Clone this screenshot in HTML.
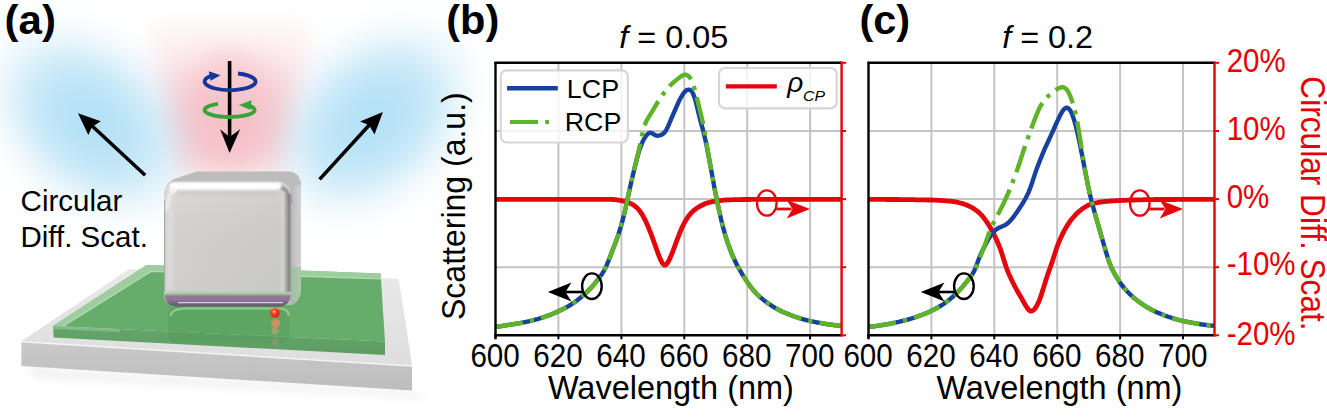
<!DOCTYPE html>
<html><head><meta charset="utf-8"><style>
html,body{margin:0;padding:0;background:#fff;width:1327px;height:417px;overflow:hidden}
svg{display:block;font-family:"Liberation Sans", sans-serif}
</style></head><body>
<svg width="1327" height="417" viewBox="0 0 1327 417">
<rect width="1327" height="417" fill="#fff"/>
<defs>
<filter id="bPink" x="-60%" y="-60%" width="220%" height="220%"><feGaussianBlur stdDeviation="12"/></filter>
<filter id="bBlue" x="-60%" y="-60%" width="220%" height="220%"><feGaussianBlur stdDeviation="14"/></filter>
<filter id="blur4" x="-50%" y="-50%" width="200%" height="200%"><feGaussianBlur stdDeviation="4"/></filter>
<filter id="blur2" filterUnits="userSpaceOnUse" x="0" y="0" width="1327" height="417"><feGaussianBlur stdDeviation="1.6"/></filter>
<filter id="blur1" filterUnits="userSpaceOnUse" x="0" y="0" width="1327" height="417"><feGaussianBlur stdDeviation="0.8"/></filter>
<linearGradient id="cubeFront" x1="0" y1="0" x2="1" y2="1">
<stop offset="0" stop-color="#d6d5d2"/><stop offset="0.5" stop-color="#cecdca"/><stop offset="1" stop-color="#c5c5c2"/></linearGradient>
<linearGradient id="cubeFrontD" x1="0" y1="0" x2="0" y2="1">
<stop offset="0" stop-color="#fff" stop-opacity="0.1"/><stop offset="0.4" stop-color="#fff" stop-opacity="0"/><stop offset="1" stop-color="#fff" stop-opacity="0.03"/></linearGradient>
<linearGradient id="cubeRE" x1="0" y1="0" x2="1" y2="0">
<stop offset="0" stop-color="#c8c8c6" stop-opacity="0"/><stop offset="0.3" stop-color="#dadad8" stop-opacity="0.8"/><stop offset="0.8" stop-color="#858585" stop-opacity="0.95"/><stop offset="1" stop-color="#9c9c9c"/></linearGradient>
<linearGradient id="cubeFrontV" x1="0" y1="0" x2="0" y2="1">
<stop offset="0" stop-color="#ffffff" stop-opacity="0.25"/><stop offset="0.5" stop-color="#ffffff" stop-opacity="0"/><stop offset="1" stop-color="#000" stop-opacity="0.03"/></linearGradient>
<linearGradient id="cubeSide" x1="0" y1="0" x2="1" y2="0">
<stop offset="0" stop-color="#b8b8b8"/><stop offset="0.5" stop-color="#c6c6c6"/><stop offset="1" stop-color="#d2d2d2"/></linearGradient>
<linearGradient id="cubeBot" x1="0" y1="0" x2="0" y2="1">
<stop offset="0" stop-color="#aab8aa"/><stop offset="0.25" stop-color="#8a7a8e"/><stop offset="0.5" stop-color="#9a6e9e"/><stop offset="0.75" stop-color="#6e6878"/><stop offset="1" stop-color="#5e5c66"/></linearGradient>
<linearGradient id="baseFront" x1="0" y1="0" x2="0" y2="1">
<stop offset="0" stop-color="#c9c9c9"/><stop offset="1" stop-color="#bdbdbd"/></linearGradient>
<linearGradient id="baseTop" x1="0" y1="0" x2="0" y2="1">
<stop offset="0" stop-color="#e9e9e9"/><stop offset="1" stop-color="#dedede"/></linearGradient>
<linearGradient id="pinkG" x1="0" y1="0" x2="0" y2="1">
<stop offset="0" stop-color="#f7c6cc" stop-opacity="0.0"/><stop offset="0.2" stop-color="#f7c6cc" stop-opacity="0.35"/><stop offset="0.5" stop-color="#f6c2c8" stop-opacity="0.9"/><stop offset="0.75" stop-color="#f5bdc4"/><stop offset="1" stop-color="#f6c8cd" stop-opacity="0.6"/></linearGradient>
<linearGradient id="slabFront" x1="0" y1="0" x2="0" y2="1">
<stop offset="0" stop-color="#64a56a"/><stop offset="1" stop-color="#5d9d63"/></linearGradient>
<radialGradient id="blueR" cx="0.5" cy="0.5" r="0.5"><stop offset="0" stop-color="#ade0f6"/><stop offset="0.5" stop-color="#b8e2f6" stop-opacity="0.85"/><stop offset="1" stop-color="#cce9f7" stop-opacity="0"/></radialGradient>
<radialGradient id="dotG" cx="0.4" cy="0.35" r="0.7"><stop offset="0" stop-color="#ffb08a"/><stop offset="0.4" stop-color="#ff3a1a"/><stop offset="1" stop-color="#d81a10"/></radialGradient>
</defs>
<polygon points="146,12 314,12 284,180 176,180" fill="url(#pinkG)" filter="url(#bPink)" opacity="0.8"/>
<ellipse cx="229" cy="112" rx="48" ry="62" fill="#f4b4bc" opacity="0.45" filter="url(#bPink)"/>
<ellipse cx="92" cy="122" rx="125" ry="88" fill="url(#blueR)" transform="rotate(40 92 122)" filter="url(#bBlue)"/>
<ellipse cx="372" cy="120" rx="125" ry="88" fill="url(#blueR)" transform="rotate(-40 372 120)" filter="url(#bBlue)"/>
<polygon points="24,366 412,390 428,398 34,378" fill="#aaa" opacity="0.15" filter="url(#blur4)"/>
<polygon points="21.4,341.3 129,269 398.6,278.8 412,365.5" fill="url(#baseTop)"/>
<polygon points="21.4,341.3 412,365.5 412,390.5 21.4,366" fill="url(#baseFront)"/>
<line x1="21.4" y1="341.8" x2="412" y2="366" stroke="#f4f4f4" stroke-width="1.5"/>
<polygon points="398.6,278.8 406,330 412,365.5" fill="#d4d4d4" opacity="0.6"/>
<polygon points="53,325.9 146.6,265 380.6,273.4 385,341.5" fill="#66ad6b"/>
<polygon points="53,325.9 146.6,265 380.6,273.4 381,279 151,271.5 62,327" fill="#acd5ac" opacity="0.8"/>
<polyline points="62,327 151,271.5 381,279" fill="none" stroke="#c4e4c2" stroke-width="1.2" opacity="0.8"/>
<polygon points="53,325.9 385,341.5 385,355 53.7,337.4" fill="url(#slabFront)"/>
<polygon points="53,325.9 120,329 120,332 53,329" fill="#a3d1a3" opacity="0.5"/>
<rect x="168" y="306" width="121.5" height="37" rx="9" fill="#4a9450" opacity="0.32"/>
<path d="M170,316 Q172,308.5 185,308.5 L280,308.5 Q288,308.5 289,316" fill="none" stroke="#9fd69f" stroke-width="2" opacity="0.8"/>
<path d="M164,296 L164,195 Q164.5,184 174,179 L196.7,171.6 L289.2,171.6 Q300.5,173 301,185 L301,290 Q300,302 291,305 L175,305 Q164,304 164,296 Z" fill="#bcbcbc"/>
<path d="M290.9,188 L301,185 L301,290 Q300,302 291,305 Z" fill="url(#cubeSide)"/>
<path d="M290.9,267 L301,267 L301,290 Q300,302 291,305 Z" fill="#86c487" opacity="0.5"/>
<rect x="164" y="181.7" width="126.9" height="122.5" rx="12" fill="url(#cubeFront)"/>
<rect x="164" y="181.7" width="126.9" height="122.5" rx="12" fill="url(#cubeFrontD)"/>
<path d="M164.6,200 L164.6,292" stroke="#a9a9a7" stroke-width="1.2" fill="none"/>
<rect x="166.5" y="196" width="7" height="94" fill="#e2e1df" opacity="0.55" filter="url(#blur1)"/>
<rect x="279" y="194" width="12" height="98" fill="url(#cubeRE)"/>
<path d="M278,187 Q289.5,188 290.2,203" fill="none" stroke="#8a8a8a" stroke-width="3" filter="url(#blur1)"/>
<path d="M176,193.5 L276,193.5" fill="none" stroke="#b9b9b7" stroke-width="2" opacity="0.45" filter="url(#blur1)"/>
<path d="M173,186 L278,186" fill="none" stroke="#ffffff" stroke-width="7" stroke-linecap="round" filter="url(#blur1)"/>
<circle cx="173" cy="190" r="3.2" fill="#fff" filter="url(#blur1)"/>
<path d="M167,210 Q167.5,194 175,188" fill="none" stroke="#f0f0f0" stroke-width="3" filter="url(#blur1)"/>
<path d="M166,292.5 L289.5,292.5" stroke="#a4d6a2" stroke-width="2.2" opacity="0.85"/>
<path d="M164.5,293.5 Q165,306.5 178,306.5 L279,306.5 Q290.5,306 290.8,293.5 Z" fill="url(#cubeBot)"/>
<path d="M178,302.6 L283,302.6" fill="none" stroke="#cfe3ec" stroke-width="1.4" opacity="0.9"/>
<circle cx="275" cy="313" r="5.8" fill="#ff5030" opacity="0.35" filter="url(#blur1)"/>
<circle cx="275" cy="313" r="4.6" fill="url(#dotG)"/>
<circle cx="275.5" cy="323.3" r="4.6" fill="#f08a60" opacity="0.75"/>
<circle cx="275" cy="331" r="3.5" fill="#eaa080" opacity="0.45"/>
<circle cx="275" cy="342" r="3.5" fill="#c89080" opacity="0.35"/>
<line x1="145.2" y1="175.2" x2="90" y2="124" stroke="#000" stroke-width="3.6"/>
<path d="M78,113.3 L100.8,121.2 L92,127 L88.3,135.1 Z" fill="#000"/>
<line x1="319.6" y1="179.4" x2="372" y2="122" stroke="#000" stroke-width="3.6"/>
<path d="M382.9,111.9 L374.5,134.5 L369,125 L360,121.5 Z" fill="#000"/>
<line x1="229.6" y1="61" x2="229.6" y2="138" stroke="#000" stroke-width="3.6"/>
<path d="M212,75.6 A25.5 8.5 0 1 0 238,73.5" fill="none" stroke="#14369a" stroke-width="3.8"/>
<path d="M220.5,75.3 L208.8,71.2 L210.6,80.8 Z" fill="#14369a"/>
<path d="M248.5,105.4 A25 7 0 1 1 218,103.8" fill="none" stroke="#37a33b" stroke-width="3.8"/>
<path d="M238.8,104.9 L251.5,100.3 L250.5,110 Z" fill="#37a33b"/>
<path d="M229.6,152.9 L220.1,129.2 L229.6,137 L240.2,129.2 Z" fill="#000"/>
<text x="20.6" y="211" font-size="29.5" fill="#000">Circular</text>
<text x="20.5" y="247.3" font-size="29.5" fill="#000">Diff. Scat.</text>
<text transform="translate(4.59,33.78) scale(1.0,0.98)" font-size="42" text-anchor="start" fill="#000" font-weight="bold">(a)</text>
<line x1="558.4" y1="62.8" x2="558.4" y2="335.3" stroke="#c4c4c4" stroke-width="2"/>
<line x1="621.4" y1="62.8" x2="621.4" y2="335.3" stroke="#c4c4c4" stroke-width="2"/>
<line x1="684.3" y1="62.8" x2="684.3" y2="335.3" stroke="#c4c4c4" stroke-width="2"/>
<line x1="747.2" y1="62.8" x2="747.2" y2="335.3" stroke="#c4c4c4" stroke-width="2"/>
<line x1="810.1" y1="62.8" x2="810.1" y2="335.3" stroke="#c4c4c4" stroke-width="2"/>
<line x1="495.5" y1="131.0" x2="841.6" y2="131.0" stroke="#c4c4c4" stroke-width="2"/>
<line x1="495.5" y1="199.1" x2="841.6" y2="199.1" stroke="#c4c4c4" stroke-width="2"/>
<line x1="495.5" y1="267.2" x2="841.6" y2="267.2" stroke="#c4c4c4" stroke-width="2"/>
<path d="M495.5,199.4 L496.5,199.4 L497.5,199.4 L498.5,199.4 L499.5,199.4 L500.5,199.4 L501.5,199.4 L502.5,199.4 L503.5,199.4 L504.5,199.4 L505.5,199.4 L506.5,199.4 L507.5,199.4 L508.5,199.4 L509.5,199.4 L510.5,199.4 L511.5,199.4 L512.5,199.4 L513.5,199.4 L514.5,199.4 L515.5,199.4 L516.5,199.4 L517.5,199.4 L518.5,199.4 L519.5,199.4 L520.5,199.4 L521.5,199.4 L522.5,199.4 L523.5,199.4 L524.5,199.4 L525.5,199.4 L526.5,199.4 L527.5,199.4 L528.5,199.4 L529.5,199.4 L530.5,199.4 L531.5,199.4 L532.5,199.4 L533.5,199.4 L534.5,199.4 L535.5,199.4 L536.5,199.4 L537.5,199.4 L538.5,199.4 L539.5,199.4 L540.5,199.4 L541.5,199.4 L542.5,199.4 L543.5,199.4 L544.5,199.4 L545.5,199.4 L546.5,199.4 L547.5,199.4 L548.5,199.4 L549.5,199.4 L550.5,199.4 L551.5,199.4 L552.5,199.4 L553.5,199.4 L554.5,199.4 L555.5,199.4 L556.5,199.4 L557.5,199.4 L558.5,199.4 L559.5,199.4 L560.5,199.4 L561.5,199.4 L562.5,199.4 L563.5,199.4 L564.5,199.4 L565.5,199.4 L566.5,199.4 L567.5,199.4 L568.5,199.4 L569.5,199.4 L570.5,199.4 L571.5,199.4 L572.5,199.4 L573.5,199.4 L574.5,199.4 L575.5,199.4 L576.5,199.4 L577.5,199.4 L578.5,199.4 L579.5,199.4 L580.5,199.4 L581.5,199.4 L582.5,199.4 L583.5,199.4 L584.5,199.4 L585.5,199.4 L586.5,199.4 L587.5,199.4 L588.5,199.4 L589.5,199.4 L590.5,199.4 L591.5,199.4 L592.5,199.4 L593.5,199.4 L594.5,199.4 L595.5,199.4 L596.5,199.4 L597.5,199.4 L598.5,199.4 L599.5,199.4 L600.5,199.4 L601.5,199.4 L602.5,199.4 L603.5,199.4 L604.5,199.4 L605.5,199.4 L606.5,199.4 L607.5,199.4 L608.5,199.4 L609.5,199.4 L610.5,199.4 L611.5,199.4 L612.5,199.5 L613.5,199.5 L614.5,199.6 L615.5,199.7 L616.5,199.8 L617.5,199.9 L618.5,200.1 L619.5,200.3 L620.5,200.4 L621.5,200.7 L622.5,200.9 L623.5,201.1 L624.5,201.4 L625.5,201.6 L626.5,201.9 L627.5,202.2 L628.5,202.6 L629.5,203.0 L630.5,203.4 L631.5,203.9 L632.5,204.5 L633.5,205.1 L634.5,205.8 L635.5,206.6 L636.5,207.4 L637.5,208.4 L638.5,209.5 L639.5,210.7 L640.5,212.1 L641.5,213.5 L642.5,215.1 L643.5,216.9 L644.5,218.8 L645.5,220.8 L646.5,223.0 L647.5,225.2 L648.5,227.6 L649.5,230.1 L650.5,232.6 L651.5,235.2 L652.5,237.9 L653.5,240.7 L654.5,243.5 L655.5,246.3 L656.5,249.1 L657.5,251.9 L658.5,254.6 L659.5,257.2 L660.5,259.5 L661.5,261.6 L662.5,263.3 L663.5,264.5 L664.5,265.1 L665.5,265.0 L666.5,264.3 L667.5,263.0 L668.5,261.3 L669.5,259.3 L670.5,257.1 L671.5,254.7 L672.5,252.2 L673.5,249.5 L674.5,246.8 L675.5,244.1 L676.5,241.4 L677.5,238.7 L678.5,236.1 L679.5,233.5 L680.5,231.1 L681.5,228.7 L682.5,226.5 L683.5,224.5 L684.5,222.6 L685.5,220.8 L686.5,219.1 L687.5,217.6 L688.5,216.2 L689.5,214.9 L690.5,213.7 L691.5,212.6 L692.5,211.7 L693.5,210.8 L694.5,209.9 L695.5,209.2 L696.5,208.4 L697.5,207.8 L698.5,207.1 L699.5,206.5 L700.5,206.0 L701.5,205.5 L702.5,205.0 L703.5,204.5 L704.5,204.0 L705.5,203.6 L706.5,203.2 L707.5,202.9 L708.5,202.5 L709.5,202.3 L710.5,202.0 L711.5,201.8 L712.5,201.6 L713.5,201.5 L714.5,201.3 L715.5,201.1 L716.5,201.0 L717.5,200.9 L718.5,200.7 L719.5,200.6 L720.5,200.5 L721.5,200.4 L722.5,200.3 L723.5,200.2 L724.5,200.1 L725.5,200.0 L726.5,200.0 L727.5,199.9 L728.5,199.9 L729.5,199.8 L730.5,199.8 L731.5,199.8 L732.5,199.7 L733.5,199.7 L734.5,199.7 L735.5,199.7 L736.5,199.7 L737.5,199.6 L738.5,199.6 L739.5,199.6 L740.5,199.6 L741.5,199.6 L742.5,199.5 L743.5,199.5 L744.5,199.5 L745.5,199.5 L746.5,199.5 L747.5,199.5 L748.5,199.5 L749.5,199.5 L750.5,199.4 L751.5,199.4 L752.5,199.4 L753.5,199.4 L754.5,199.4 L755.5,199.4 L756.5,199.4 L757.5,199.4 L758.5,199.4 L759.5,199.4 L760.5,199.4 L761.5,199.4 L762.5,199.4 L763.5,199.4 L764.5,199.4 L765.5,199.4 L766.5,199.4 L767.5,199.4 L768.5,199.4 L769.5,199.4 L770.5,199.4 L771.5,199.4 L772.5,199.4 L773.5,199.4 L774.5,199.4 L775.5,199.4 L776.5,199.4 L777.5,199.4 L778.5,199.4 L779.5,199.4 L780.5,199.4 L781.5,199.4 L782.5,199.4 L783.5,199.4 L784.5,199.4 L785.5,199.4 L786.5,199.4 L787.5,199.4 L788.5,199.4 L789.5,199.4 L790.5,199.4 L791.5,199.4 L792.5,199.4 L793.5,199.4 L794.5,199.4 L795.5,199.4 L796.5,199.4 L797.5,199.4 L798.5,199.4 L799.5,199.4 L800.5,199.4 L801.5,199.4 L802.5,199.4 L803.5,199.4 L804.5,199.4 L805.5,199.4 L806.5,199.4 L807.5,199.4 L808.5,199.4 L809.5,199.4 L810.5,199.4 L811.5,199.4 L812.5,199.4 L813.5,199.4 L814.5,199.4 L815.5,199.4 L816.5,199.4 L817.5,199.4 L818.5,199.4 L819.5,199.4 L820.5,199.4 L821.5,199.4 L822.5,199.4 L823.5,199.4 L824.5,199.4 L825.5,199.4 L826.5,199.4 L827.5,199.4 L828.5,199.4 L829.5,199.4 L830.5,199.4 L831.5,199.4 L832.5,199.4 L833.5,199.4 L834.5,199.4 L835.5,199.4 L836.5,199.4 L837.5,199.4 L838.5,199.4 L839.5,199.4 L840.5,199.4 L841.5,199.4" fill="none" stroke="#e3070d" stroke-width="4.8" stroke-linejoin="round"/>
<path d="M495.5,326.9 L496.5,326.8 L497.5,326.7 L498.5,326.5 L499.5,326.4 L500.5,326.2 L501.5,326.1 L502.5,325.9 L503.5,325.7 L504.5,325.6 L505.5,325.4 L506.5,325.3 L507.5,325.1 L508.5,324.9 L509.5,324.8 L510.5,324.6 L511.5,324.5 L512.5,324.3 L513.5,324.1 L514.5,324.0 L515.5,323.8 L516.5,323.7 L517.5,323.5 L518.5,323.3 L519.5,323.1 L520.5,323.0 L521.5,322.8 L522.5,322.6 L523.5,322.4 L524.5,322.2 L525.5,322.0 L526.5,321.8 L527.5,321.6 L528.5,321.3 L529.5,321.1 L530.5,320.9 L531.5,320.6 L532.5,320.4 L533.5,320.1 L534.5,319.9 L535.5,319.6 L536.5,319.3 L537.5,319.1 L538.5,318.8 L539.5,318.5 L540.5,318.2 L541.5,317.9 L542.5,317.6 L543.5,317.2 L544.5,316.9 L545.5,316.5 L546.5,316.2 L547.5,315.8 L548.5,315.4 L549.5,315.1 L550.5,314.7 L551.5,314.3 L552.5,313.9 L553.5,313.5 L554.5,313.0 L555.5,312.6 L556.5,312.2 L557.5,311.7 L558.5,311.3 L559.5,310.8 L560.5,310.3 L561.5,309.8 L562.5,309.3 L563.5,308.8 L564.5,308.3 L565.5,307.7 L566.5,307.2 L567.5,306.6 L568.5,306.1 L569.5,305.5 L570.5,304.9 L571.5,304.2 L572.5,303.6 L573.5,302.9 L574.5,302.3 L575.5,301.6 L576.5,300.9 L577.5,300.1 L578.5,299.3 L579.5,298.5 L580.5,297.7 L581.5,296.8 L582.5,296.0 L583.5,295.1 L584.5,294.2 L585.5,293.3 L586.5,292.4 L587.5,291.4 L588.5,290.4 L589.5,289.4 L590.5,288.4 L591.5,287.3 L592.5,286.2 L593.5,285.0 L594.5,283.8 L595.5,282.5 L596.5,281.2 L597.5,279.9 L598.5,278.7 L599.5,277.4 L600.5,276.0 L601.5,274.7 L602.5,273.2 L603.5,271.6 L604.5,269.8 L605.5,267.8 L606.5,265.6 L607.5,263.2 L608.5,260.8 L609.5,258.2 L610.5,255.6 L611.5,253.0 L612.5,250.4 L613.5,247.8 L614.5,245.2 L615.5,242.5 L616.5,239.8 L617.5,237.0 L618.5,234.1 L619.5,231.0 L620.5,227.8 L621.5,224.4 L622.5,220.8 L623.5,216.9 L624.5,212.8 L625.5,208.4 L626.5,203.9 L627.5,199.2 L628.5,194.6 L629.5,190.0 L630.5,185.5 L631.5,181.1 L632.5,176.7 L633.5,172.4 L634.5,168.2 L635.5,164.2 L636.5,160.3 L637.5,156.6 L638.5,153.1 L639.5,149.9 L640.5,147.0 L641.5,144.3 L642.5,142.0 L643.5,140.0 L644.5,138.2 L645.5,136.7 L646.5,135.3 L647.5,134.2 L648.5,133.4 L649.5,132.9 L650.5,132.8 L651.5,133.0 L652.5,133.5 L653.5,134.1 L654.5,134.7 L655.5,135.2 L656.5,135.6 L657.5,135.7 L658.5,135.6 L659.5,135.4 L660.5,135.1 L661.5,134.7 L662.5,134.2 L663.5,133.5 L664.5,132.5 L665.5,131.2 L666.5,129.6 L667.5,127.6 L668.5,125.4 L669.5,123.0 L670.5,120.6 L671.5,118.2 L672.5,115.9 L673.5,113.6 L674.5,111.3 L675.5,109.0 L676.5,106.7 L677.5,104.5 L678.5,102.2 L679.5,100.1 L680.5,98.2 L681.5,96.5 L682.5,94.9 L683.5,93.4 L684.5,92.1 L685.5,91.1 L686.5,90.3 L687.5,89.8 L688.5,89.6 L689.5,89.7 L690.5,90.2 L691.5,91.1 L692.5,92.6 L693.5,94.7 L694.5,97.5 L695.5,100.8 L696.5,104.6 L697.5,108.7 L698.5,113.0 L699.5,117.1 L700.5,120.9 L701.5,124.6 L702.5,128.2 L703.5,132.0 L704.5,136.2 L705.5,140.6 L706.5,145.4 L707.5,150.4 L708.5,155.5 L709.5,160.8 L710.5,166.1 L711.5,171.6 L712.5,177.1 L713.5,182.7 L714.5,188.1 L715.5,193.3 L716.5,198.3 L717.5,203.1 L718.5,207.7 L719.5,212.3 L720.5,216.7 L721.5,220.9 L722.5,224.9 L723.5,228.8 L724.5,232.4 L725.5,235.9 L726.5,239.1 L727.5,242.2 L728.5,245.1 L729.5,247.8 L730.5,250.4 L731.5,253.0 L732.5,255.4 L733.5,257.7 L734.5,259.9 L735.5,262.0 L736.5,264.0 L737.5,265.9 L738.5,267.7 L739.5,269.5 L740.5,271.2 L741.5,272.9 L742.5,274.6 L743.5,276.2 L744.5,277.8 L745.5,279.4 L746.5,280.9 L747.5,282.4 L748.5,283.8 L749.5,285.2 L750.5,286.6 L751.5,287.9 L752.5,289.2 L753.5,290.4 L754.5,291.5 L755.5,292.6 L756.5,293.7 L757.5,294.7 L758.5,295.6 L759.5,296.6 L760.5,297.4 L761.5,298.3 L762.5,299.1 L763.5,299.9 L764.5,300.7 L765.5,301.5 L766.5,302.2 L767.5,302.9 L768.5,303.6 L769.5,304.3 L770.5,305.0 L771.5,305.6 L772.5,306.3 L773.5,306.9 L774.5,307.5 L775.5,308.1 L776.5,308.6 L777.5,309.2 L778.5,309.7 L779.5,310.2 L780.5,310.7 L781.5,311.2 L782.5,311.7 L783.5,312.1 L784.5,312.6 L785.5,313.0 L786.5,313.4 L787.5,313.8 L788.5,314.2 L789.5,314.6 L790.5,315.0 L791.5,315.4 L792.5,315.8 L793.5,316.1 L794.5,316.5 L795.5,316.8 L796.5,317.2 L797.5,317.5 L798.5,317.8 L799.5,318.2 L800.5,318.5 L801.5,318.8 L802.5,319.0 L803.5,319.3 L804.5,319.6 L805.5,319.9 L806.5,320.1 L807.5,320.4 L808.5,320.6 L809.5,320.8 L810.5,321.1 L811.5,321.3 L812.5,321.5 L813.5,321.7 L814.5,321.9 L815.5,322.1 L816.5,322.3 L817.5,322.5 L818.5,322.7 L819.5,322.9 L820.5,323.0 L821.5,323.2 L822.5,323.4 L823.5,323.6 L824.5,323.7 L825.5,323.9 L826.5,324.1 L827.5,324.2 L828.5,324.4 L829.5,324.5 L830.5,324.7 L831.5,324.8 L832.5,324.9 L833.5,325.0 L834.5,325.2 L835.5,325.3 L836.5,325.4 L837.5,325.5 L838.5,325.6 L839.5,325.6 L840.5,325.7 L841.5,325.7" fill="none" stroke="#17419e" stroke-width="4.4" stroke-linejoin="round"/>
<path d="M495.5,326.9 L496.5,326.8 L497.5,326.7 L498.5,326.5 L499.5,326.4 L500.5,326.2 L501.5,326.1 L502.5,325.9 L503.5,325.7 L504.5,325.6 L505.5,325.4 L506.5,325.3 L507.5,325.1 L508.5,324.9 L509.5,324.8 L510.5,324.6 L511.5,324.5 L512.5,324.3 L513.5,324.1 L514.5,324.0 L515.5,323.8 L516.5,323.7 L517.5,323.5 L518.5,323.3 L519.5,323.1 L520.5,323.0 L521.5,322.8 L522.5,322.6 L523.5,322.4 L524.5,322.2 L525.5,322.0 L526.5,321.8 L527.5,321.6 L528.5,321.3 L529.5,321.1 L530.5,320.9 L531.5,320.6 L532.5,320.4 L533.5,320.1 L534.5,319.9 L535.5,319.6 L536.5,319.3 L537.5,319.1 L538.5,318.8 L539.5,318.5 L540.5,318.2 L541.5,317.9 L542.5,317.6 L543.5,317.2 L544.5,316.9 L545.5,316.5 L546.5,316.2 L547.5,315.8 L548.5,315.4 L549.5,315.1 L550.5,314.7 L551.5,314.3 L552.5,313.9 L553.5,313.5 L554.5,313.0 L555.5,312.6 L556.5,312.2 L557.5,311.7 L558.5,311.3 L559.5,310.8 L560.5,310.3 L561.5,309.8 L562.5,309.3 L563.5,308.8 L564.5,308.3 L565.5,307.7 L566.5,307.2 L567.5,306.6 L568.5,306.1 L569.5,305.5 L570.5,304.9 L571.5,304.2 L572.5,303.6 L573.5,302.9 L574.5,302.3 L575.5,301.6 L576.5,300.9 L577.5,300.1 L578.5,299.3 L579.5,298.5 L580.5,297.7 L581.5,296.8 L582.5,296.0 L583.5,295.1 L584.5,294.2 L585.5,293.3 L586.5,292.4 L587.5,291.4 L588.5,290.4 L589.5,289.4 L590.5,288.4 L591.5,287.3 L592.5,286.2 L593.5,285.0 L594.5,283.8 L595.5,282.5 L596.5,281.2 L597.5,279.9 L598.5,278.7 L599.5,277.4 L600.5,276.0 L601.5,274.7 L602.5,273.2 L603.5,271.6 L604.5,269.8 L605.5,267.8 L606.5,265.6 L607.5,263.2 L608.5,260.8 L609.5,258.2 L610.5,255.6 L611.5,253.0 L612.5,250.4 L613.5,247.8 L614.5,245.2 L615.5,242.5 L616.5,239.8 L617.5,237.0 L618.5,234.1 L619.5,231.0 L620.5,227.8 L621.5,224.4 L622.5,220.8 L623.5,216.9 L624.5,212.8 L625.5,208.4 L626.5,203.9 L627.5,199.2 L628.5,194.6 L629.5,190.1 L630.5,185.6 L631.5,181.1 L632.5,176.8 L633.5,172.5 L634.5,168.3 L635.5,164.2 L636.5,160.1 L637.5,155.9 L638.5,151.6 L639.5,147.1 L640.5,142.3 L641.5,137.6 L642.5,133.2 L643.5,129.3 L644.5,125.9 L645.5,123.2 L646.5,120.9 L647.5,119.0 L648.5,117.4 L649.5,115.8 L650.5,114.2 L651.5,112.6 L652.5,111.0 L653.5,109.3 L654.5,107.6 L655.5,105.9 L656.5,104.2 L657.5,102.6 L658.5,101.0 L659.5,99.5 L660.5,98.0 L661.5,96.5 L662.5,95.1 L663.5,93.7 L664.5,92.3 L665.5,91.0 L666.5,89.7 L667.5,88.5 L668.5,87.3 L669.5,86.2 L670.5,85.2 L671.5,84.2 L672.5,83.3 L673.5,82.4 L674.5,81.5 L675.5,80.7 L676.5,79.9 L677.5,79.1 L678.5,78.3 L679.5,77.5 L680.5,76.8 L681.5,76.1 L682.5,75.5 L683.5,75.0 L684.5,74.8 L685.5,74.7 L686.5,74.9 L687.5,75.4 L688.5,76.1 L689.5,77.1 L690.5,78.5 L691.5,80.2 L692.5,82.5 L693.5,85.3 L694.5,88.6 L695.5,92.3 L696.5,96.3 L697.5,100.4 L698.5,104.5 L699.5,108.5 L700.5,112.6 L701.5,116.8 L702.5,121.2 L703.5,126.0 L704.5,131.3 L705.5,137.0 L706.5,143.1 L707.5,149.1 L708.5,155.0 L709.5,160.7 L710.5,166.2 L711.5,171.7 L712.5,177.2 L713.5,182.7 L714.5,188.1 L715.5,193.3 L716.5,198.3 L717.5,203.1 L718.5,207.7 L719.5,212.3 L720.5,216.7 L721.5,220.9 L722.5,224.9 L723.5,228.8 L724.5,232.4 L725.5,235.9 L726.5,239.1 L727.5,242.2 L728.5,245.1 L729.5,247.8 L730.5,250.4 L731.5,253.0 L732.5,255.4 L733.5,257.7 L734.5,259.9 L735.5,262.0 L736.5,264.0 L737.5,265.9 L738.5,267.7 L739.5,269.5 L740.5,271.2 L741.5,272.9 L742.5,274.6 L743.5,276.2 L744.5,277.8 L745.5,279.4 L746.5,280.9 L747.5,282.4 L748.5,283.8 L749.5,285.2 L750.5,286.6 L751.5,287.9 L752.5,289.2 L753.5,290.4 L754.5,291.5 L755.5,292.6 L756.5,293.7 L757.5,294.7 L758.5,295.6 L759.5,296.6 L760.5,297.4 L761.5,298.3 L762.5,299.1 L763.5,299.9 L764.5,300.7 L765.5,301.5 L766.5,302.2 L767.5,302.9 L768.5,303.6 L769.5,304.3 L770.5,305.0 L771.5,305.6 L772.5,306.3 L773.5,306.9 L774.5,307.5 L775.5,308.1 L776.5,308.6 L777.5,309.2 L778.5,309.7 L779.5,310.2 L780.5,310.7 L781.5,311.2 L782.5,311.7 L783.5,312.1 L784.5,312.6 L785.5,313.0 L786.5,313.4 L787.5,313.8 L788.5,314.2 L789.5,314.6 L790.5,315.0 L791.5,315.4 L792.5,315.8 L793.5,316.1 L794.5,316.5 L795.5,316.8 L796.5,317.2 L797.5,317.5 L798.5,317.8 L799.5,318.2 L800.5,318.5 L801.5,318.8 L802.5,319.0 L803.5,319.3 L804.5,319.6 L805.5,319.9 L806.5,320.1 L807.5,320.4 L808.5,320.6 L809.5,320.8 L810.5,321.1 L811.5,321.3 L812.5,321.5 L813.5,321.7 L814.5,321.9 L815.5,322.1 L816.5,322.3 L817.5,322.5 L818.5,322.7 L819.5,322.9 L820.5,323.0 L821.5,323.2 L822.5,323.4 L823.5,323.6 L824.5,323.7 L825.5,323.9 L826.5,324.1 L827.5,324.2 L828.5,324.4 L829.5,324.5 L830.5,324.7 L831.5,324.8 L832.5,324.9 L833.5,325.0 L834.5,325.2 L835.5,325.3 L836.5,325.4 L837.5,325.5 L838.5,325.6 L839.5,325.6 L840.5,325.7 L841.5,325.7" fill="none" stroke="#5fb327" stroke-width="4.4" stroke-dasharray="27.8 7.2 4.2 7.2" stroke-linejoin="round"/>
<line x1="495.5" y1="62.8" x2="495.5" y2="338.8" stroke="#000" stroke-width="2.4"/>
<line x1="494.3" y1="335.3" x2="841.6" y2="335.3" stroke="#000" stroke-width="2.4"/>
<line x1="494.3" y1="62.8" x2="841.6" y2="62.8" stroke="#000" stroke-width="2.4"/>
<line x1="841.6" y1="61.599999999999994" x2="841.6" y2="336.5" stroke="#e60000" stroke-width="2.4"/>
<line x1="495.5" y1="335.3" x2="495.5" y2="339.3" stroke="#000" stroke-width="2"/>
<text transform="translate(495.10,366.50) scale(0.9875,1.1)" font-size="30" text-anchor="middle" fill="#000" >600</text>
<line x1="558.4" y1="335.3" x2="558.4" y2="339.3" stroke="#000" stroke-width="2"/>
<text transform="translate(558.03,366.50) scale(0.9875,1.1)" font-size="30" text-anchor="middle" fill="#000" >620</text>
<line x1="621.4" y1="335.3" x2="621.4" y2="339.3" stroke="#000" stroke-width="2"/>
<text transform="translate(620.95,366.50) scale(0.9875,1.1)" font-size="30" text-anchor="middle" fill="#000" >640</text>
<line x1="684.3" y1="335.3" x2="684.3" y2="339.3" stroke="#000" stroke-width="2"/>
<text transform="translate(683.88,366.50) scale(0.9875,1.1)" font-size="30" text-anchor="middle" fill="#000" >660</text>
<line x1="747.2" y1="335.3" x2="747.2" y2="339.3" stroke="#000" stroke-width="2"/>
<text transform="translate(746.81,366.50) scale(0.9875,1.1)" font-size="30" text-anchor="middle" fill="#000" >680</text>
<line x1="810.1" y1="335.3" x2="810.1" y2="339.3" stroke="#000" stroke-width="2"/>
<text transform="translate(809.74,366.50) scale(0.9875,1.1)" font-size="30" text-anchor="middle" fill="#000" >700</text>
<line x1="841.6" y1="62.8" x2="846.1" y2="62.8" stroke="#e60000" stroke-width="2"/>
<line x1="841.6" y1="131.0" x2="846.1" y2="131.0" stroke="#e60000" stroke-width="2"/>
<line x1="841.6" y1="199.1" x2="846.1" y2="199.1" stroke="#e60000" stroke-width="2"/>
<line x1="841.6" y1="267.2" x2="846.1" y2="267.2" stroke="#e60000" stroke-width="2"/>
<line x1="841.6" y1="335.3" x2="846.1" y2="335.3" stroke="#e60000" stroke-width="2"/>
<text transform="translate(547.90,399.36) scale(1.0154,1.02)" font-size="32" text-anchor="start" fill="#000" >Wavelength (nm)</text>
<text transform="translate(619.25,48.40) scale(1.045,1.015)" font-size="31" text-anchor="start" fill="#000" ><tspan font-style="italic">f</tspan> = 0.05</text>
<text transform="translate(446.24,33.78) scale(0.99,0.98)" font-size="42" text-anchor="start" fill="#000" font-weight="bold">(b)</text>
<ellipse cx="591.9" cy="286.2" rx="9.8" ry="12.8" fill="none" stroke="#000" stroke-width="2.4"/>
<line x1="582.4" y1="292" x2="565.5" y2="292" stroke="#000" stroke-width="2.6"/>
<path d="M547.8,292 L571.5,282.6 L565.5,292 L571.5,301.4 Z" fill="#000"/>
<ellipse cx="766.8" cy="203" rx="9.8" ry="12.7" fill="none" stroke="#e3070d" stroke-width="2.3"/>
<line x1="776.3" y1="209" x2="791.5" y2="209" stroke="#e3070d" stroke-width="2.8"/>
<path d="M810.1,209 L786.7,200 L792.5,209 L786.7,218.6 Z" fill="#e3070d"/>
<rect x="500.8" y="70.3" width="127" height="72.2" rx="6" fill="#fff" fill-opacity="0.8" stroke="#d6d6d6" stroke-width="2.2"/>
<line x1="507.1" y1="88.2" x2="557.8" y2="88.2" stroke="#17419e" stroke-width="4.5"/>
<text transform="translate(566.82,98.30) scale(1.035,1.02)" font-size="26" text-anchor="start" fill="#000" >LCP</text>
<line x1="510" y1="122" x2="549" y2="122" stroke="#5fb327" stroke-width="4.2" stroke-dasharray="28 7.2 4.3 7.2"/>
<text transform="translate(564.74,130.70) scale(1.03,1.0)" font-size="26" text-anchor="start" fill="#000" >RCP</text>
<rect x="719" y="68" width="117.7" height="40.3" rx="6" fill="#fff" fill-opacity="0.8" stroke="#d6d6d6" stroke-width="2.2"/>
<line x1="725.8" y1="86.4" x2="776.8" y2="86.4" stroke="#e3070d" stroke-width="4.2"/>
<text transform="translate(787.20,92.10) scale(1.0,0.96)" font-size="28" text-anchor="start" fill="#000" font-style="italic">ρ</text>
<text transform="translate(803.00,100.80) scale(0.99,0.87)" font-size="16" text-anchor="start" fill="#000" font-style="italic">CP</text>
<line x1="931.4" y1="62.8" x2="931.4" y2="335.3" stroke="#c4c4c4" stroke-width="2"/>
<line x1="994.3" y1="62.8" x2="994.3" y2="335.3" stroke="#c4c4c4" stroke-width="2"/>
<line x1="1057.2" y1="62.8" x2="1057.2" y2="335.3" stroke="#c4c4c4" stroke-width="2"/>
<line x1="1120.1" y1="62.8" x2="1120.1" y2="335.3" stroke="#c4c4c4" stroke-width="2"/>
<line x1="1183.0" y1="62.8" x2="1183.0" y2="335.3" stroke="#c4c4c4" stroke-width="2"/>
<line x1="868.5" y1="131.0" x2="1214.5" y2="131.0" stroke="#c4c4c4" stroke-width="2"/>
<line x1="868.5" y1="199.1" x2="1214.5" y2="199.1" stroke="#c4c4c4" stroke-width="2"/>
<line x1="868.5" y1="267.2" x2="1214.5" y2="267.2" stroke="#c4c4c4" stroke-width="2"/>
<path d="M868.5,199.4 L869.5,199.4 L870.5,199.4 L871.5,199.4 L872.5,199.4 L873.5,199.4 L874.5,199.4 L875.5,199.4 L876.5,199.4 L877.5,199.4 L878.5,199.4 L879.5,199.4 L880.5,199.4 L881.5,199.4 L882.5,199.4 L883.5,199.4 L884.5,199.4 L885.5,199.4 L886.5,199.5 L887.5,199.5 L888.5,199.5 L889.5,199.5 L890.5,199.5 L891.5,199.5 L892.5,199.5 L893.5,199.5 L894.5,199.5 L895.5,199.5 L896.5,199.5 L897.5,199.5 L898.5,199.5 L899.5,199.6 L900.5,199.6 L901.5,199.6 L902.5,199.6 L903.5,199.6 L904.5,199.6 L905.5,199.6 L906.5,199.6 L907.5,199.6 L908.5,199.7 L909.5,199.7 L910.5,199.7 L911.5,199.7 L912.5,199.7 L913.5,199.7 L914.5,199.7 L915.5,199.8 L916.5,199.8 L917.5,199.8 L918.5,199.8 L919.5,199.8 L920.5,199.8 L921.5,199.8 L922.5,199.9 L923.5,199.9 L924.5,199.9 L925.5,199.9 L926.5,199.9 L927.5,200.0 L928.5,200.0 L929.5,200.0 L930.5,200.0 L931.5,200.0 L932.5,200.1 L933.5,200.1 L934.5,200.1 L935.5,200.2 L936.5,200.2 L937.5,200.3 L938.5,200.3 L939.5,200.4 L940.5,200.4 L941.5,200.5 L942.5,200.6 L943.5,200.6 L944.5,200.7 L945.5,200.8 L946.5,200.9 L947.5,201.0 L948.5,201.1 L949.5,201.1 L950.5,201.2 L951.5,201.4 L952.5,201.5 L953.5,201.6 L954.5,201.7 L955.5,201.9 L956.5,202.1 L957.5,202.3 L958.5,202.5 L959.5,202.8 L960.5,203.0 L961.5,203.3 L962.5,203.6 L963.5,203.9 L964.5,204.3 L965.5,204.6 L966.5,205.0 L967.5,205.4 L968.5,205.8 L969.5,206.3 L970.5,206.8 L971.5,207.3 L972.5,207.9 L973.5,208.5 L974.5,209.2 L975.5,209.9 L976.5,210.6 L977.5,211.4 L978.5,212.2 L979.5,213.1 L980.5,214.1 L981.5,215.1 L982.5,216.3 L983.5,217.5 L984.5,218.8 L985.5,220.2 L986.5,221.6 L987.5,223.1 L988.5,224.7 L989.5,226.3 L990.5,228.0 L991.5,229.8 L992.5,231.7 L993.5,233.6 L994.5,235.6 L995.5,237.6 L996.5,239.7 L997.5,242.0 L998.5,244.3 L999.5,246.8 L1000.5,249.5 L1001.5,252.4 L1002.5,255.6 L1003.5,258.8 L1004.5,262.0 L1005.5,265.1 L1006.5,268.0 L1007.5,270.6 L1008.5,273.1 L1009.5,275.4 L1010.5,277.6 L1011.5,279.7 L1012.5,281.7 L1013.5,283.7 L1014.5,285.7 L1015.5,287.6 L1016.5,289.4 L1017.5,291.3 L1018.5,293.0 L1019.5,294.8 L1020.5,296.5 L1021.5,298.2 L1022.5,300.0 L1023.5,301.8 L1024.5,303.5 L1025.5,305.3 L1026.5,306.9 L1027.5,308.4 L1028.5,309.6 L1029.5,310.5 L1030.5,311.0 L1031.5,311.1 L1032.5,310.8 L1033.5,310.1 L1034.5,309.1 L1035.5,307.8 L1036.5,306.3 L1037.5,304.4 L1038.5,302.3 L1039.5,299.8 L1040.5,297.1 L1041.5,294.2 L1042.5,291.1 L1043.5,287.9 L1044.5,284.7 L1045.5,281.4 L1046.5,278.2 L1047.5,275.2 L1048.5,272.3 L1049.5,269.5 L1050.5,266.8 L1051.5,263.9 L1052.5,260.9 L1053.5,257.8 L1054.5,254.6 L1055.5,251.5 L1056.5,248.5 L1057.5,245.7 L1058.5,243.1 L1059.5,240.7 L1060.5,238.4 L1061.5,236.2 L1062.5,234.1 L1063.5,232.1 L1064.5,230.2 L1065.5,228.4 L1066.5,226.7 L1067.5,225.1 L1068.5,223.6 L1069.5,222.1 L1070.5,220.7 L1071.5,219.4 L1072.5,218.2 L1073.5,217.0 L1074.5,215.9 L1075.5,214.8 L1076.5,213.8 L1077.5,212.8 L1078.5,211.9 L1079.5,211.1 L1080.5,210.3 L1081.5,209.5 L1082.5,208.8 L1083.5,208.1 L1084.5,207.4 L1085.5,206.8 L1086.5,206.2 L1087.5,205.7 L1088.5,205.2 L1089.5,204.8 L1090.5,204.4 L1091.5,204.1 L1092.5,203.8 L1093.5,203.5 L1094.5,203.3 L1095.5,203.0 L1096.5,202.8 L1097.5,202.6 L1098.5,202.4 L1099.5,202.2 L1100.5,202.0 L1101.5,201.9 L1102.5,201.8 L1103.5,201.6 L1104.5,201.5 L1105.5,201.4 L1106.5,201.4 L1107.5,201.3 L1108.5,201.2 L1109.5,201.1 L1110.5,201.0 L1111.5,201.0 L1112.5,200.9 L1113.5,200.8 L1114.5,200.8 L1115.5,200.7 L1116.5,200.7 L1117.5,200.6 L1118.5,200.6 L1119.5,200.5 L1120.5,200.5 L1121.5,200.4 L1122.5,200.4 L1123.5,200.3 L1124.5,200.3 L1125.5,200.3 L1126.5,200.2 L1127.5,200.2 L1128.5,200.1 L1129.5,200.1 L1130.5,200.1 L1131.5,200.1 L1132.5,200.0 L1133.5,200.0 L1134.5,200.0 L1135.5,199.9 L1136.5,199.9 L1137.5,199.9 L1138.5,199.9 L1139.5,199.8 L1140.5,199.8 L1141.5,199.8 L1142.5,199.8 L1143.5,199.7 L1144.5,199.7 L1145.5,199.7 L1146.5,199.7 L1147.5,199.7 L1148.5,199.6 L1149.5,199.6 L1150.5,199.6 L1151.5,199.6 L1152.5,199.6 L1153.5,199.6 L1154.5,199.5 L1155.5,199.5 L1156.5,199.5 L1157.5,199.5 L1158.5,199.5 L1159.5,199.5 L1160.5,199.5 L1161.5,199.5 L1162.5,199.5 L1163.5,199.5 L1164.5,199.5 L1165.5,199.5 L1166.5,199.5 L1167.5,199.5 L1168.5,199.5 L1169.5,199.5 L1170.5,199.5 L1171.5,199.5 L1172.5,199.5 L1173.5,199.5 L1174.5,199.5 L1175.5,199.5 L1176.5,199.4 L1177.5,199.4 L1178.5,199.4 L1179.5,199.4 L1180.5,199.4 L1181.5,199.4 L1182.5,199.4 L1183.5,199.4 L1184.5,199.4 L1185.5,199.4 L1186.5,199.4 L1187.5,199.4 L1188.5,199.4 L1189.5,199.4 L1190.5,199.4 L1191.5,199.4 L1192.5,199.4 L1193.5,199.4 L1194.5,199.4 L1195.5,199.4 L1196.5,199.4 L1197.5,199.4 L1198.5,199.4 L1199.5,199.4 L1200.5,199.4 L1201.5,199.4 L1202.5,199.4 L1203.5,199.4 L1204.5,199.4 L1205.5,199.4 L1206.5,199.4 L1207.5,199.4 L1208.5,199.4 L1209.5,199.4 L1210.5,199.4 L1211.5,199.4 L1212.5,199.4 L1213.5,199.4 L1214.5,199.4" fill="none" stroke="#e3070d" stroke-width="4.8" stroke-linejoin="round"/>
<path d="M868.5,326.9 L869.5,326.8 L870.5,326.7 L871.5,326.6 L872.5,326.5 L873.5,326.4 L874.5,326.2 L875.5,326.1 L876.5,325.9 L877.5,325.8 L878.5,325.6 L879.5,325.5 L880.5,325.3 L881.5,325.2 L882.5,325.0 L883.5,324.8 L884.5,324.7 L885.5,324.5 L886.5,324.3 L887.5,324.1 L888.5,324.0 L889.5,323.8 L890.5,323.6 L891.5,323.4 L892.5,323.2 L893.5,323.0 L894.5,322.8 L895.5,322.6 L896.5,322.4 L897.5,322.1 L898.5,321.9 L899.5,321.7 L900.5,321.4 L901.5,321.2 L902.5,321.0 L903.5,320.7 L904.5,320.5 L905.5,320.2 L906.5,319.9 L907.5,319.7 L908.5,319.4 L909.5,319.1 L910.5,318.8 L911.5,318.5 L912.5,318.2 L913.5,317.9 L914.5,317.5 L915.5,317.2 L916.5,316.9 L917.5,316.5 L918.5,316.2 L919.5,315.8 L920.5,315.4 L921.5,315.1 L922.5,314.7 L923.5,314.3 L924.5,313.9 L925.5,313.5 L926.5,313.1 L927.5,312.6 L928.5,312.2 L929.5,311.8 L930.5,311.3 L931.5,310.8 L932.5,310.3 L933.5,309.8 L934.5,309.3 L935.5,308.8 L936.5,308.3 L937.5,307.7 L938.5,307.1 L939.5,306.5 L940.5,305.9 L941.5,305.3 L942.5,304.7 L943.5,304.0 L944.5,303.3 L945.5,302.6 L946.5,301.9 L947.5,301.1 L948.5,300.3 L949.5,299.5 L950.5,298.7 L951.5,297.8 L952.5,297.0 L953.5,296.1 L954.5,295.2 L955.5,294.2 L956.5,293.2 L957.5,292.2 L958.5,291.2 L959.5,290.2 L960.5,289.1 L961.5,288.0 L962.5,286.8 L963.5,285.6 L964.5,284.4 L965.5,283.2 L966.5,281.9 L967.5,280.7 L968.5,279.4 L969.5,278.2 L970.5,277.0 L971.5,275.6 L972.5,274.1 L973.5,272.3 L974.5,270.2 L975.5,267.8 L976.5,265.2 L977.5,262.5 L978.5,259.8 L979.5,257.3 L980.5,254.9 L981.5,252.7 L982.5,250.5 L983.5,248.5 L984.5,246.6 L985.5,244.7 L986.5,242.8 L987.5,241.0 L988.5,239.2 L989.5,237.5 L990.5,235.9 L991.5,234.5 L992.5,233.2 L993.5,232.0 L994.5,231.0 L995.5,230.1 L996.5,229.3 L997.5,228.6 L998.5,228.0 L999.5,227.5 L1000.5,227.1 L1001.5,226.7 L1002.5,226.3 L1003.5,225.9 L1004.5,225.4 L1005.5,224.8 L1006.5,224.2 L1007.5,223.4 L1008.5,222.5 L1009.5,221.6 L1010.5,220.6 L1011.5,219.4 L1012.5,218.2 L1013.5,216.9 L1014.5,215.6 L1015.5,214.1 L1016.5,212.7 L1017.5,211.2 L1018.5,209.7 L1019.5,208.2 L1020.5,206.7 L1021.5,205.2 L1022.5,203.6 L1023.5,202.0 L1024.5,200.3 L1025.5,198.5 L1026.5,196.6 L1027.5,194.6 L1028.5,192.4 L1029.5,189.9 L1030.5,187.3 L1031.5,184.5 L1032.5,181.5 L1033.5,178.4 L1034.5,175.4 L1035.5,172.4 L1036.5,169.6 L1037.5,166.8 L1038.5,164.2 L1039.5,161.6 L1040.5,159.0 L1041.5,156.6 L1042.5,154.1 L1043.5,151.8 L1044.5,149.4 L1045.5,147.2 L1046.5,145.0 L1047.5,142.8 L1048.5,140.7 L1049.5,138.5 L1050.5,136.4 L1051.5,134.2 L1052.5,132.0 L1053.5,129.8 L1054.5,127.5 L1055.5,125.2 L1056.5,123.0 L1057.5,120.8 L1058.5,118.7 L1059.5,116.7 L1060.5,114.7 L1061.5,112.9 L1062.5,111.2 L1063.5,109.8 L1064.5,108.7 L1065.5,108.0 L1066.5,107.7 L1067.5,107.9 L1068.5,108.5 L1069.5,109.5 L1070.5,110.9 L1071.5,112.8 L1072.5,115.2 L1073.5,118.1 L1074.5,121.3 L1075.5,124.9 L1076.5,128.9 L1077.5,133.1 L1078.5,137.6 L1079.5,142.3 L1080.5,147.2 L1081.5,152.2 L1082.5,157.3 L1083.5,162.5 L1084.5,167.7 L1085.5,173.0 L1086.5,178.1 L1087.5,183.1 L1088.5,187.9 L1089.5,192.4 L1090.5,196.7 L1091.5,200.7 L1092.5,204.5 L1093.5,208.3 L1094.5,211.9 L1095.5,215.5 L1096.5,219.0 L1097.5,222.5 L1098.5,226.0 L1099.5,229.5 L1100.5,233.0 L1101.5,236.5 L1102.5,240.0 L1103.5,243.5 L1104.5,246.9 L1105.5,250.3 L1106.5,253.7 L1107.5,256.9 L1108.5,260.0 L1109.5,262.8 L1110.5,265.4 L1111.5,267.7 L1112.5,269.8 L1113.5,271.8 L1114.5,273.6 L1115.5,275.4 L1116.5,277.1 L1117.5,278.7 L1118.5,280.3 L1119.5,281.8 L1120.5,283.2 L1121.5,284.6 L1122.5,285.9 L1123.5,287.2 L1124.5,288.4 L1125.5,289.6 L1126.5,290.7 L1127.5,291.8 L1128.5,292.8 L1129.5,293.8 L1130.5,294.7 L1131.5,295.7 L1132.5,296.6 L1133.5,297.4 L1134.5,298.3 L1135.5,299.1 L1136.5,299.9 L1137.5,300.7 L1138.5,301.5 L1139.5,302.2 L1140.5,302.9 L1141.5,303.6 L1142.5,304.3 L1143.5,305.0 L1144.5,305.6 L1145.5,306.3 L1146.5,306.9 L1147.5,307.5 L1148.5,308.1 L1149.5,308.6 L1150.5,309.2 L1151.5,309.7 L1152.5,310.2 L1153.5,310.7 L1154.5,311.2 L1155.5,311.7 L1156.5,312.1 L1157.5,312.6 L1158.5,313.0 L1159.5,313.4 L1160.5,313.8 L1161.5,314.2 L1162.5,314.6 L1163.5,315.0 L1164.5,315.4 L1165.5,315.8 L1166.5,316.1 L1167.5,316.5 L1168.5,316.8 L1169.5,317.2 L1170.5,317.5 L1171.5,317.8 L1172.5,318.2 L1173.5,318.5 L1174.5,318.8 L1175.5,319.0 L1176.5,319.3 L1177.5,319.6 L1178.5,319.9 L1179.5,320.1 L1180.5,320.4 L1181.5,320.6 L1182.5,320.8 L1183.5,321.1 L1184.5,321.3 L1185.5,321.5 L1186.5,321.7 L1187.5,321.9 L1188.5,322.1 L1189.5,322.3 L1190.5,322.5 L1191.5,322.7 L1192.5,322.9 L1193.5,323.0 L1194.5,323.2 L1195.5,323.4 L1196.5,323.6 L1197.5,323.7 L1198.5,323.9 L1199.5,324.1 L1200.5,324.2 L1201.5,324.4 L1202.5,324.5 L1203.5,324.7 L1204.5,324.8 L1205.5,324.9 L1206.5,325.0 L1207.5,325.2 L1208.5,325.3 L1209.5,325.4 L1210.5,325.5 L1211.5,325.6 L1212.5,325.6 L1213.5,325.7 L1214.5,325.7" fill="none" stroke="#17419e" stroke-width="4.4" stroke-linejoin="round"/>
<path d="M868.5,326.9 L869.5,326.8 L870.5,326.7 L871.5,326.6 L872.5,326.5 L873.5,326.4 L874.5,326.2 L875.5,326.1 L876.5,325.9 L877.5,325.8 L878.5,325.6 L879.5,325.5 L880.5,325.3 L881.5,325.2 L882.5,325.0 L883.5,324.8 L884.5,324.7 L885.5,324.5 L886.5,324.3 L887.5,324.1 L888.5,324.0 L889.5,323.8 L890.5,323.6 L891.5,323.4 L892.5,323.2 L893.5,323.0 L894.5,322.8 L895.5,322.6 L896.5,322.4 L897.5,322.1 L898.5,321.9 L899.5,321.7 L900.5,321.4 L901.5,321.2 L902.5,321.0 L903.5,320.7 L904.5,320.5 L905.5,320.2 L906.5,319.9 L907.5,319.7 L908.5,319.4 L909.5,319.1 L910.5,318.8 L911.5,318.5 L912.5,318.2 L913.5,317.9 L914.5,317.5 L915.5,317.2 L916.5,316.9 L917.5,316.5 L918.5,316.2 L919.5,315.8 L920.5,315.4 L921.5,315.1 L922.5,314.7 L923.5,314.3 L924.5,313.9 L925.5,313.5 L926.5,313.1 L927.5,312.6 L928.5,312.2 L929.5,311.8 L930.5,311.3 L931.5,310.8 L932.5,310.3 L933.5,309.8 L934.5,309.3 L935.5,308.8 L936.5,308.3 L937.5,307.7 L938.5,307.1 L939.5,306.5 L940.5,305.9 L941.5,305.3 L942.5,304.7 L943.5,304.0 L944.5,303.3 L945.5,302.6 L946.5,301.9 L947.5,301.1 L948.5,300.3 L949.5,299.5 L950.5,298.7 L951.5,297.8 L952.5,297.0 L953.5,296.1 L954.5,295.2 L955.5,294.2 L956.5,293.2 L957.5,292.2 L958.5,291.2 L959.5,290.2 L960.5,289.1 L961.5,288.0 L962.5,286.8 L963.5,285.6 L964.5,284.4 L965.5,283.2 L966.5,281.9 L967.5,280.7 L968.5,279.4 L969.5,278.2 L970.5,277.0 L971.5,275.7 L972.5,274.2 L973.5,272.5 L974.5,270.6 L975.5,268.4 L976.5,266.1 L977.5,263.6 L978.5,261.2 L979.5,258.7 L980.5,256.3 L981.5,253.8 L982.5,251.3 L983.5,248.7 L984.5,246.0 L985.5,243.1 L986.5,240.2 L987.5,237.4 L988.5,234.6 L989.5,232.0 L990.5,229.4 L991.5,227.1 L992.5,224.8 L993.5,222.7 L994.5,220.7 L995.5,218.8 L996.5,216.9 L997.5,215.1 L998.5,213.3 L999.5,211.4 L1000.5,209.5 L1001.5,207.6 L1002.5,205.6 L1003.5,203.5 L1004.5,201.4 L1005.5,199.2 L1006.5,197.0 L1007.5,194.7 L1008.5,192.3 L1009.5,189.9 L1010.5,187.5 L1011.5,185.0 L1012.5,182.4 L1013.5,179.8 L1014.5,177.2 L1015.5,174.5 L1016.5,171.7 L1017.5,168.9 L1018.5,166.0 L1019.5,163.0 L1020.5,160.0 L1021.5,156.9 L1022.5,153.9 L1023.5,150.8 L1024.5,147.9 L1025.5,144.9 L1026.5,142.0 L1027.5,139.1 L1028.5,136.2 L1029.5,133.4 L1030.5,130.6 L1031.5,127.9 L1032.5,125.2 L1033.5,122.5 L1034.5,119.9 L1035.5,117.4 L1036.5,114.9 L1037.5,112.5 L1038.5,110.2 L1039.5,108.0 L1040.5,106.1 L1041.5,104.3 L1042.5,102.7 L1043.5,101.3 L1044.5,100.0 L1045.5,98.9 L1046.5,97.8 L1047.5,96.8 L1048.5,95.8 L1049.5,94.9 L1050.5,94.0 L1051.5,93.1 L1052.5,92.3 L1053.5,91.5 L1054.5,90.7 L1055.5,90.1 L1056.5,89.5 L1057.5,88.9 L1058.5,88.4 L1059.5,87.9 L1060.5,87.6 L1061.5,87.3 L1062.5,87.2 L1063.5,87.3 L1064.5,87.7 L1065.5,88.4 L1066.5,89.4 L1067.5,90.7 L1068.5,92.3 L1069.5,94.3 L1070.5,96.7 L1071.5,99.4 L1072.5,102.5 L1073.5,105.8 L1074.5,109.5 L1075.5,113.6 L1076.5,118.2 L1077.5,123.3 L1078.5,128.9 L1079.5,135.0 L1080.5,141.4 L1081.5,147.9 L1082.5,154.3 L1083.5,160.6 L1084.5,166.7 L1085.5,172.5 L1086.5,178.0 L1087.5,183.1 L1088.5,187.9 L1089.5,192.4 L1090.5,196.7 L1091.5,200.7 L1092.5,204.5 L1093.5,208.3 L1094.5,211.9 L1095.5,215.5 L1096.5,219.0 L1097.5,222.5 L1098.5,226.0 L1099.5,229.5 L1100.5,233.0 L1101.5,236.5 L1102.5,240.0 L1103.5,243.5 L1104.5,246.9 L1105.5,250.3 L1106.5,253.7 L1107.5,256.9 L1108.5,260.0 L1109.5,262.8 L1110.5,265.4 L1111.5,267.7 L1112.5,269.8 L1113.5,271.8 L1114.5,273.6 L1115.5,275.4 L1116.5,277.1 L1117.5,278.7 L1118.5,280.3 L1119.5,281.8 L1120.5,283.2 L1121.5,284.6 L1122.5,285.9 L1123.5,287.2 L1124.5,288.4 L1125.5,289.6 L1126.5,290.7 L1127.5,291.8 L1128.5,292.8 L1129.5,293.8 L1130.5,294.7 L1131.5,295.7 L1132.5,296.6 L1133.5,297.4 L1134.5,298.3 L1135.5,299.1 L1136.5,299.9 L1137.5,300.7 L1138.5,301.5 L1139.5,302.2 L1140.5,302.9 L1141.5,303.6 L1142.5,304.3 L1143.5,305.0 L1144.5,305.6 L1145.5,306.3 L1146.5,306.9 L1147.5,307.5 L1148.5,308.1 L1149.5,308.6 L1150.5,309.2 L1151.5,309.7 L1152.5,310.2 L1153.5,310.7 L1154.5,311.2 L1155.5,311.7 L1156.5,312.1 L1157.5,312.6 L1158.5,313.0 L1159.5,313.4 L1160.5,313.8 L1161.5,314.2 L1162.5,314.6 L1163.5,315.0 L1164.5,315.4 L1165.5,315.8 L1166.5,316.1 L1167.5,316.5 L1168.5,316.8 L1169.5,317.2 L1170.5,317.5 L1171.5,317.8 L1172.5,318.2 L1173.5,318.5 L1174.5,318.8 L1175.5,319.0 L1176.5,319.3 L1177.5,319.6 L1178.5,319.9 L1179.5,320.1 L1180.5,320.4 L1181.5,320.6 L1182.5,320.8 L1183.5,321.1 L1184.5,321.3 L1185.5,321.5 L1186.5,321.7 L1187.5,321.9 L1188.5,322.1 L1189.5,322.3 L1190.5,322.5 L1191.5,322.7 L1192.5,322.9 L1193.5,323.0 L1194.5,323.2 L1195.5,323.4 L1196.5,323.6 L1197.5,323.7 L1198.5,323.9 L1199.5,324.1 L1200.5,324.2 L1201.5,324.4 L1202.5,324.5 L1203.5,324.7 L1204.5,324.8 L1205.5,324.9 L1206.5,325.0 L1207.5,325.2 L1208.5,325.3 L1209.5,325.4 L1210.5,325.5 L1211.5,325.6 L1212.5,325.6 L1213.5,325.7 L1214.5,325.7" fill="none" stroke="#5fb327" stroke-width="4.4" stroke-dasharray="27.8 7.2 4.2 7.2" stroke-linejoin="round"/>
<line x1="868.5" y1="62.8" x2="868.5" y2="338.8" stroke="#000" stroke-width="2.4"/>
<line x1="867.3" y1="335.3" x2="1214.5" y2="335.3" stroke="#000" stroke-width="2.4"/>
<line x1="867.3" y1="62.8" x2="1214.5" y2="62.8" stroke="#000" stroke-width="2.4"/>
<line x1="1214.5" y1="61.599999999999994" x2="1214.5" y2="336.5" stroke="#e60000" stroke-width="2.4"/>
<line x1="868.5" y1="335.3" x2="868.5" y2="339.3" stroke="#000" stroke-width="2"/>
<text transform="translate(868.10,366.50) scale(0.9875,1.1)" font-size="30" text-anchor="middle" fill="#000" >600</text>
<line x1="931.4" y1="335.3" x2="931.4" y2="339.3" stroke="#000" stroke-width="2"/>
<text transform="translate(931.01,366.50) scale(0.9875,1.1)" font-size="30" text-anchor="middle" fill="#000" >620</text>
<line x1="994.3" y1="335.3" x2="994.3" y2="339.3" stroke="#000" stroke-width="2"/>
<text transform="translate(993.92,366.50) scale(0.9875,1.1)" font-size="30" text-anchor="middle" fill="#000" >640</text>
<line x1="1057.2" y1="335.3" x2="1057.2" y2="339.3" stroke="#000" stroke-width="2"/>
<text transform="translate(1056.83,366.50) scale(0.9875,1.1)" font-size="30" text-anchor="middle" fill="#000" >660</text>
<line x1="1120.1" y1="335.3" x2="1120.1" y2="339.3" stroke="#000" stroke-width="2"/>
<text transform="translate(1119.74,366.50) scale(0.9875,1.1)" font-size="30" text-anchor="middle" fill="#000" >680</text>
<line x1="1183.0" y1="335.3" x2="1183.0" y2="339.3" stroke="#000" stroke-width="2"/>
<text transform="translate(1182.65,366.50) scale(0.9875,1.1)" font-size="30" text-anchor="middle" fill="#000" >700</text>
<line x1="1214.5" y1="62.8" x2="1219.0" y2="62.8" stroke="#e60000" stroke-width="2"/>
<line x1="1214.5" y1="131.0" x2="1219.0" y2="131.0" stroke="#e60000" stroke-width="2"/>
<line x1="1214.5" y1="199.1" x2="1219.0" y2="199.1" stroke="#e60000" stroke-width="2"/>
<line x1="1214.5" y1="267.2" x2="1219.0" y2="267.2" stroke="#e60000" stroke-width="2"/>
<line x1="1214.5" y1="335.3" x2="1219.0" y2="335.3" stroke="#e60000" stroke-width="2"/>
<text transform="translate(936.40,399.36) scale(1.0154,1.02)" font-size="32" text-anchor="start" fill="#000" >Wavelength (nm)</text>
<text transform="translate(1002.16,48.40) scale(1.045,1.015)" font-size="31" text-anchor="start" fill="#000" ><tspan font-style="italic">f</tspan> = 0.2</text>
<text transform="translate(859.41,33.78) scale(0.99,0.98)" font-size="42" text-anchor="start" fill="#000" font-weight="bold">(c)</text>
<ellipse cx="963.9" cy="286.2" rx="9.8" ry="12.8" fill="none" stroke="#000" stroke-width="2.4"/>
<line x1="954.4" y1="292" x2="938.5" y2="292" stroke="#000" stroke-width="2.6"/>
<path d="M920.8,292 L944.5,282.6 L938.5,292 L944.5,301.4 Z" fill="#000"/>
<ellipse cx="1139.8" cy="203" rx="9.8" ry="12.7" fill="none" stroke="#e3070d" stroke-width="2.3"/>
<line x1="1149.3" y1="209" x2="1164.5" y2="209" stroke="#e3070d" stroke-width="2.8"/>
<path d="M1183.1,209 L1159.7,200 L1165.5,209 L1159.7,218.6 Z" fill="#e3070d"/>
<text x="0" y="0" font-size="32.5" fill="#000" text-anchor="middle" transform="translate(464.7,206.15) rotate(-90) scale(0.985,1.025)">Scattering (a.u.)</text>
<text transform="translate(1226.72,72.30) scale(0.983,1.11)" font-size="30" text-anchor="start" fill="#e60000" >20%</text>
<text transform="translate(1226.72,139.50) scale(0.983,1.11)" font-size="30" text-anchor="start" fill="#e60000" >10%</text>
<text transform="translate(1226.72,208.20) scale(0.983,1.11)" font-size="30" text-anchor="start" fill="#e60000" >0%</text>
<text transform="translate(1226.72,274.80) scale(0.983,1.11)" font-size="30" text-anchor="start" fill="#e60000" >-10%</text>
<text transform="translate(1226.72,345.10) scale(0.983,1.11)" font-size="30" text-anchor="start" fill="#e60000" >-20%</text>
<text x="0" y="0" font-size="31.5" fill="#e60000" text-anchor="middle" transform="translate(1300.8,203.45) rotate(90) scale(1.004,1.11)">Circular Diff. Scat.</text>
</svg></body></html>
